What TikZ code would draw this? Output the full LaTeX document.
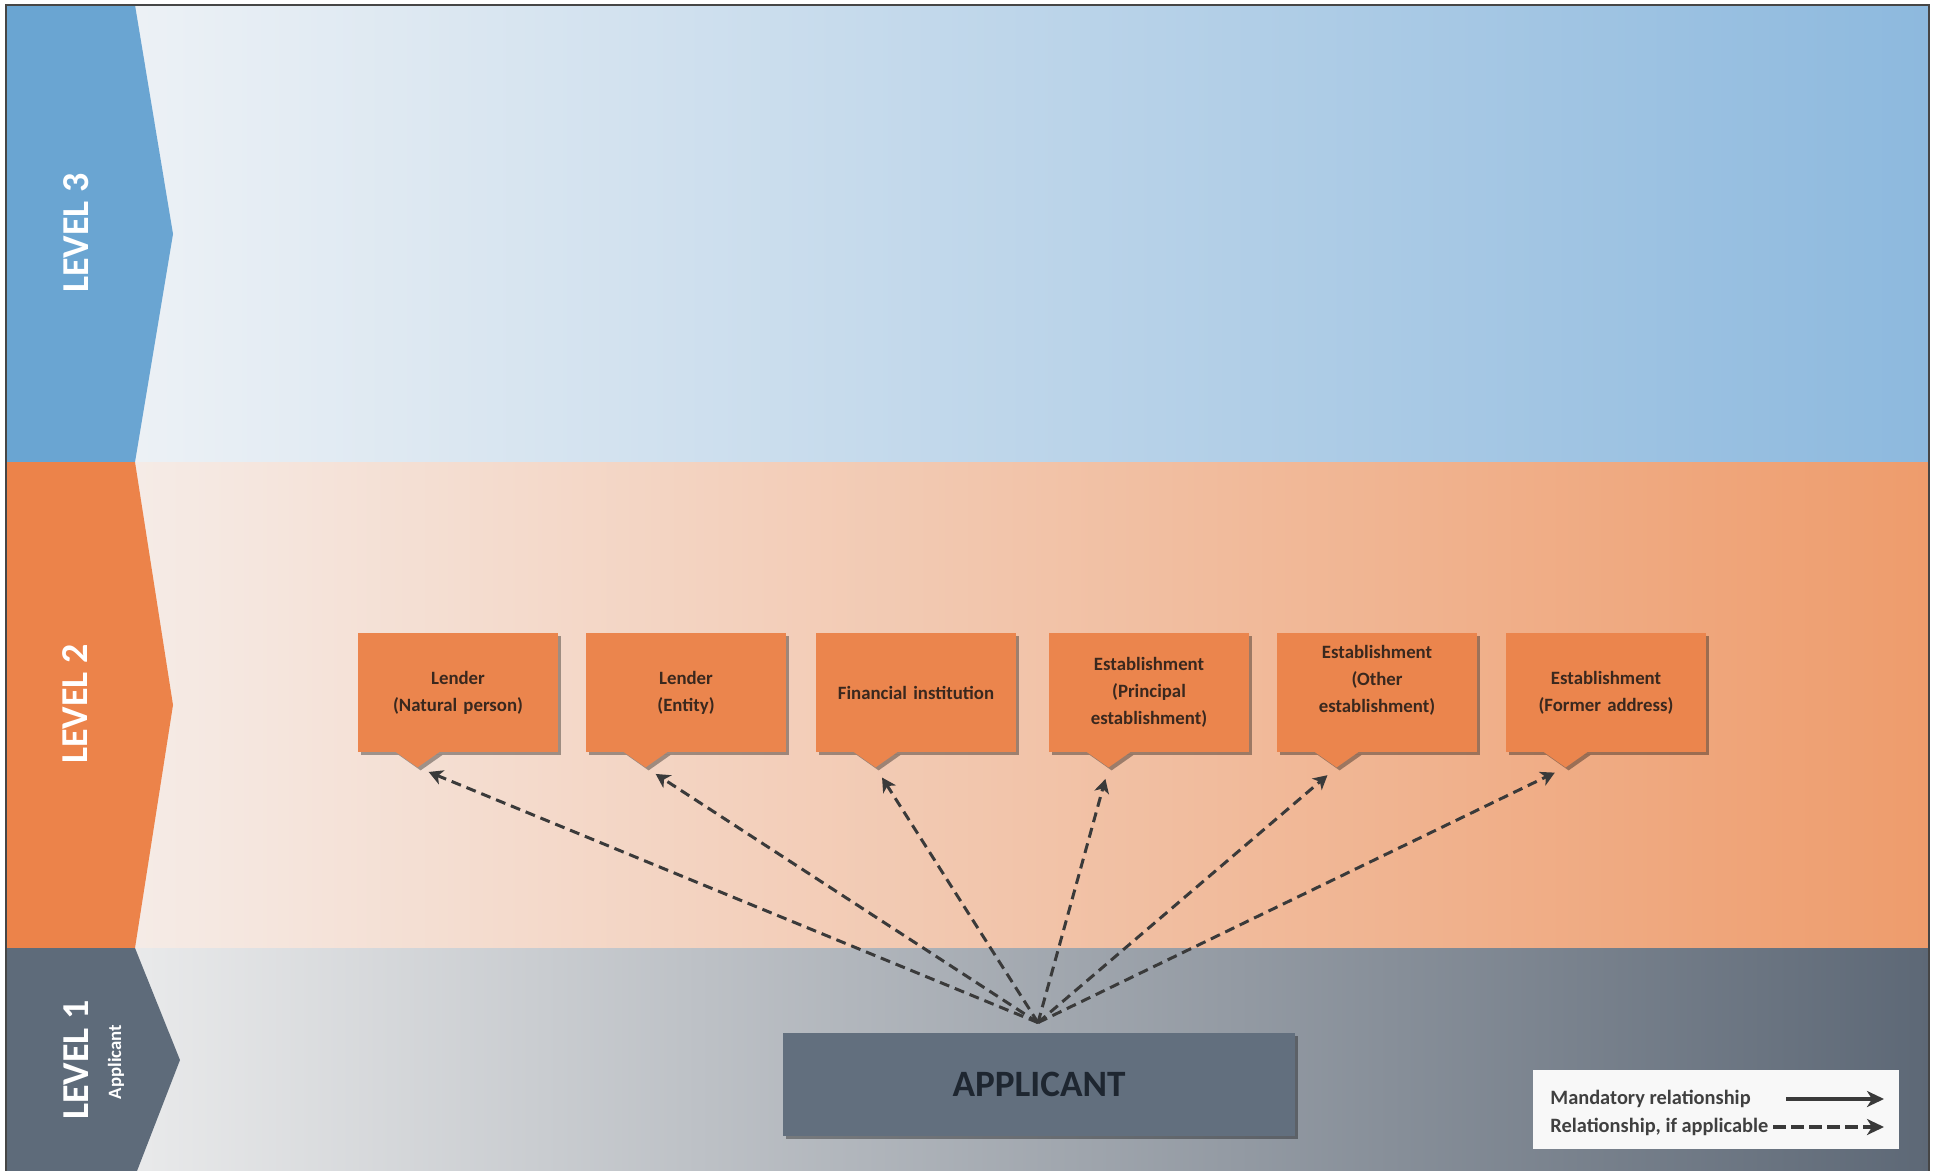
\documentclass[tikz,border=0pt]{standalone}
\usepackage{fontspec}
\setmainfont{Carlito}
\usetikzlibrary{arrows.meta,shadows,calc}

\definecolor{chevthree}{RGB}{106,165,210}
\definecolor{chevtwo}{RGB}{236,131,74}
\definecolor{chevone}{RGB}{94,107,122}
\definecolor{bgthreeL}{RGB}{243,245,247}
\definecolor{bgthreeR}{RGB}{141,185,222}
\definecolor{bgtwoL}{RGB}{246,241,239}
\definecolor{bgtwoR}{RGB}{238,156,108}
\definecolor{bgoneL}{RGB}{243,243,243}
\definecolor{bgoneR}{RGB}{93,104,118}
\definecolor{boxor}{RGB}{235,133,77}
\definecolor{boxtext}{RGB}{58,40,30}
\definecolor{appfill}{RGB}{98,111,126}
\definecolor{apptext}{RGB}{30,38,48}
\definecolor{legfill}{RGB}{248,248,248}
\definecolor{legtextc}{RGB}{64,64,64}
\definecolor{arrowc}{RGB}{58,58,58}
\definecolor{framec}{RGB}{70,70,70}

\tikzset{
  lvl/.style={text=white, font=\bfseries\fontsize{19}{22}\selectfont, inner sep=0pt, rotate=90},
  lvlsub/.style={text=white, font=\bfseries\fontsize{9.4}{11}\selectfont, inner sep=0pt, rotate=90},
  myshadow/.style={drop shadow={shadow xshift=1.5pt, shadow yshift=-1.5pt, opacity=0.35, fill=black}},
  obox/.style={rectangle, fill=boxor, minimum width=100pt, minimum height=59.5pt,
    text width=92pt, align=center, inner sep=0pt, text=boxtext,
    font=\bfseries\fontsize{9.4}{13.5}\selectfont, myshadow},
  opointer/.style={fill=boxor, myshadow},
  appbox/.style={rectangle, fill=appfill, minimum width=256pt, minimum height=51.5pt,
    inner sep=0pt, text=apptext, font=\bfseries\fontsize{18.6}{22}\selectfont, myshadow},
  legbox/.style={rectangle, fill=legfill, minimum width=183pt, minimum height=39.5pt, inner sep=0pt},
  legtext/.style={text=legtextc, font=\bfseries\fontsize{10.2}{12}\selectfont, inner sep=0pt, anchor=west},
  dasharrow/.style={draw=arrowc, line width=1.5pt, dash pattern=on 5pt off 3pt,
    -{Stealth[length=7pt,width=7.5pt,inset=2pt]}, shorten >=6pt},
  legarrow/.style={draw=arrowc, line width=2pt, -{Stealth[length=8.5pt,width=8pt,inset=2.5pt]}}
}

\begin{document}
\begin{tikzpicture}[x=0.5pt,y=-0.5pt]
\useasboundingbox (0,0) rectangle (1936,1171);
\fill[white] (0,0) rectangle (1936,1171);

% bands
\shade[left color=bgthreeL, right color=bgthreeR] (6,5) rectangle (1929,462);
\shade[left color=bgtwoL, right color=bgtwoR] (6,462) rectangle (1929,948);
\shade[left color=bgoneL, right color=bgoneR] (6,948) rectangle (1929,1171);

% chevrons
\fill[chevthree] (6,5) -- (135,5) -- (173,234) -- (135,462) -- (6,462) -- cycle;
\fill[chevtwo] (6,462) -- (135,462) -- (173,705) -- (135,948) -- (6,948) -- cycle;
\fill[chevone] (6,948) -- (135,948) -- (180,1060) -- (137,1171) -- (6,1171) -- cycle;

% frame
\draw[framec, line width=1pt] (6,1171) -- (6,5) -- (1929,5) -- (1929,1171);

% level labels
\node[lvl] (l3) at (76,233) {LEVEL 3};
\node[lvl] (l2) at (75,704) {LEVEL 2};
\node[lvl] (l1) at (76,1060) {LEVEL 1};
\node[lvlsub] (l1s) at (116,1062) {Applicant};

% level 2 boxes
\node[obox] (b1) at (458,692.5) {Lender\\(Natural person)};
\node[obox] (b2) at (686,692.5) {Lender\\(Entity)};
\node[obox] (b3) at (916,692.5) {Financial institution};
\node[obox] (b4) at (1149,692.5) {Establishment\\(Principal\\establishment)};
\node[obox] (b5) at (1377,692.5) {Establishment\\(Other\\establishment)\\\mbox{}};
\node[obox] (b6) at (1606,692.5) {Establishment\\(Former address)};

% pointers below boxes
\foreach \b in {b1,b2,b3,b4,b5,b6} {
  \fill[opointer] ($(\b.south west)+(38,-0.5)$) -- ($(\b.south west)+(60,15)$) -- ($(\b.south west)+(82,-0.5)$) -- cycle;
  \coordinate (\b tip) at ($(\b.south west)+(60,15)$);
}

% applicant
\node[appbox] (app) at (1039,1084.5) {APPLICANT};
\coordinate (hub) at ($(app.north)+(-1,-10)$);

\foreach \b in {b1,b2,b3,b4,b5,b6}
  \draw[dasharrow] (hub) -- (\b tip);

% legend
\node[legbox] (leg) at (1716,1109.5) {};
\node[legtext] (lm) at (1550,1099) {Mandatory relationship};
\node[legtext] (lr) at (1550,1127) {Relationship, if applicable};
\coordinate (lma) at (1786,1099);
\coordinate (lmb) at (1884,1099);
\coordinate (lra) at (1773,1127);
\coordinate (lrb) at (1884,1127);
\draw[legarrow] (lma) -- (lmb);
\draw[legarrow, dash pattern=on 6.5pt off 2.5pt] (lra) -- (lrb);
\end{tikzpicture}
\end{document}
